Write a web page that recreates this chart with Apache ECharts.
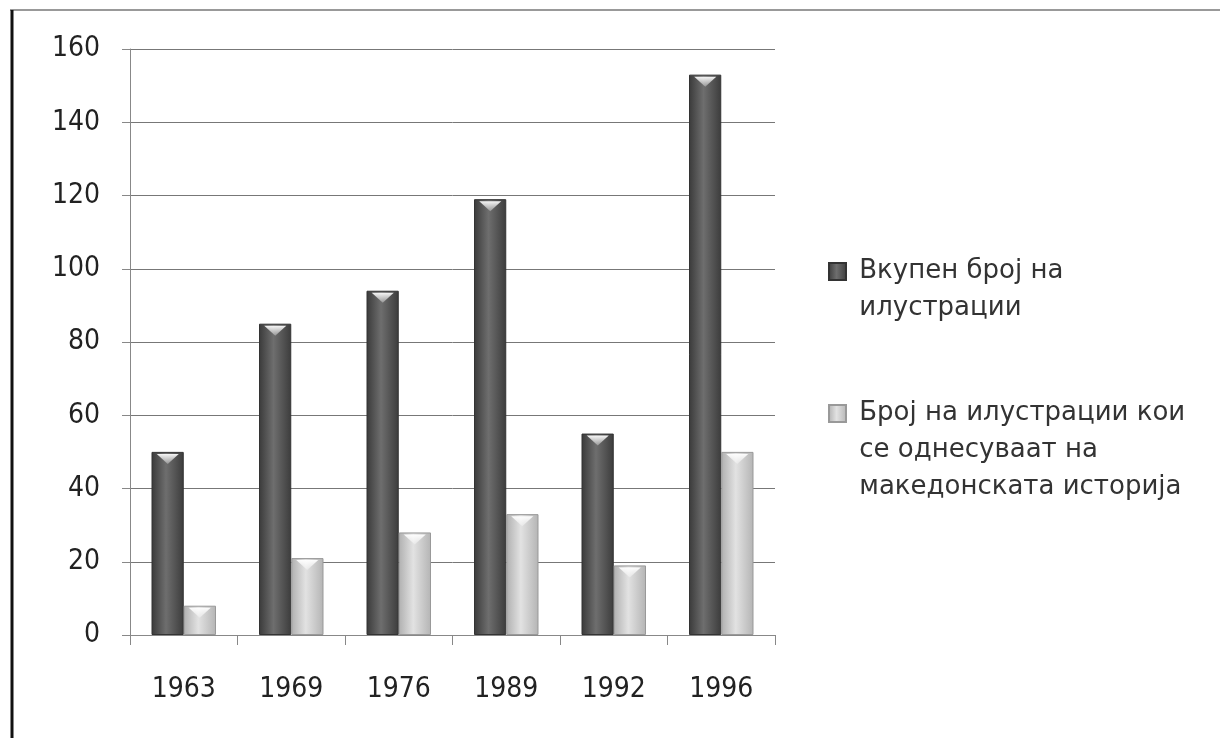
<!DOCTYPE html>
<html>
<head>
<meta charset="utf-8">
<script src="https://cdn.jsdelivr.net/npm/echarts@6/dist/echarts.min.js"></script>
<style>
  html, body { margin: 0; padding: 0; background: #fff; }
  #main { width: 1220px; height: 738px; }
</style>
</head>
<body>
<div id="main"></div>
<script>
// podatoci od grafikonot
var years = ['1963', '1969', '1976', '1989', '1992', '1996'];
var vkupno = [50, 85, 94, 119, 55, 153];
var makedonska = [8, 21, 28, 33, 19, 50];
var yTicks = [0, 20, 40, 60, 80, 100, 120, 140, 160];

var imeVkupno = 'Вкупен број на\nилустрации';
var imeMak = 'Број на илустрации кои\nсе однесуваат на\nмакедонската историја';

var chartDom = document.getElementById('main');
var myChart = echarts.init(chartDom);

var tamno = new echarts.graphic.LinearGradient(0, 0, 1, 0, [
  { offset: 0, color: '#3a3a3a' },
  { offset: 0.45, color: '#6e6e6e' },
  { offset: 1, color: '#3c3c3c' }
]);
var svetlo = new echarts.graphic.LinearGradient(0, 0, 1, 0, [
  { offset: 0, color: '#b0b0b0' },
  { offset: 0.45, color: '#e2e2e2' },
  { offset: 1, color: '#b4b4b4' }
]);
var odsjaj = new echarts.graphic.LinearGradient(0, 0, 0, 1, [
  { offset: 0, color: 'rgba(255,255,255,0.95)' },
  { offset: 1, color: 'rgba(255,255,255,0.3)' }
]);

var axisFont = '"Liberation Sans Narrow", "DejaVu Sans Condensed", sans-serif';
var legendText = {
  fontFamily: 'DejaVu Sans',
  fontSize: 26,
  color: '#333',
  lineHeight: 37
};

// prazni redovi gore, za ikonata da stoi kaj prviot red
function podigni(name) {
  var redovi = name.split('\n');
  var n = redovi.length;
  return new Array(n).join('\n') + redovi.map(function (r) { return ' ' + r; }).join('\n');
}

var triagolnik = 'path://M0,0 L20,0 L10,9 Z';

var option = {
  animation: false,
  backgroundColor: '#fff',
  grid: { left: 130, right: 445, top: 49, bottom: 103 },
  legend: [
    {
      data: [{ name: imeVkupno, icon: 'rect' }],
      orient: 'vertical',
      left: 828,
      top: 216,
      padding: 0,
      itemWidth: 17,
      itemHeight: 17,
      itemGap: 0,
      formatter: podigni,
      textStyle: legendText
    },
    {
      data: [{ name: imeMak, icon: 'rect' }],
      orient: 'vertical',
      left: 828,
      top: 321,
      padding: 0,
      itemWidth: 17,
      itemHeight: 17,
      itemGap: 0,
      formatter: podigni,
      textStyle: legendText
    }
  ],
  xAxis: {
    type: 'category',
    data: years,
    axisLine: { lineStyle: { color: '#888', width: 1 } },
    axisTick: { show: true, length: 10, lineStyle: { color: '#888' } },
    axisLabel: {
      fontFamily: axisFont,
      fontSize: 28,
      color: '#222',
      margin: 41
    }
  },
  yAxis: {
    type: 'value',
    min: yTicks[0],
    max: yTicks[yTicks.length - 1],
    interval: 20,
    axisLine: { show: true, lineStyle: { color: '#888', width: 1 } },
    axisTick: { show: true, length: 8, lineStyle: { color: '#888' } },
    axisLabel: {
      fontFamily: axisFont,
      fontSize: 28,
      color: '#222',
      margin: 30
    },
    splitLine: { lineStyle: { color: '#777', width: 1 } }
  },
  series: [
    {
      name: imeVkupno,
      type: 'bar',
      data: vkupno,
      barGap: '0%',
      barCategoryGap: '40%',
      itemStyle: { color: tamno, borderColor: '#333', borderWidth: 1 }
    },
    {
      name: imeMak,
      type: 'bar',
      data: makedonska,
      itemStyle: { color: svetlo, borderColor: '#999', borderWidth: 1 }
    },
    {
      name: 'odsjaj1',
      type: 'pictorialBar',
      data: vkupno,
      symbol: triagolnik,
      symbolPosition: 'end',
      symbolSize: [22, 10],
      symbolOffset: [-16, 2],
      itemStyle: { color: odsjaj },
      z: 3,
      silent: true
    },
    {
      name: 'odsjaj2',
      type: 'pictorialBar',
      data: makedonska,
      symbol: triagolnik,
      symbolPosition: 'end',
      symbolSize: [22, 10],
      symbolOffset: [16, 2],
      itemStyle: { color: odsjaj },
      z: 3,
      silent: true
    }
  ],
  graphic: [
    {
      type: 'line',
      shape: { x1: 10, y1: 10, x2: 1220, y2: 10 },
      style: { stroke: '#999', lineWidth: 2 }
    },
    {
      type: 'line',
      shape: { x1: 12, y1: 10, x2: 12, y2: 738 },
      style: { stroke: '#111', lineWidth: 3 }
    }
  ]
};

option && myChart.setOption(option);
</script>
</body>
</html>
